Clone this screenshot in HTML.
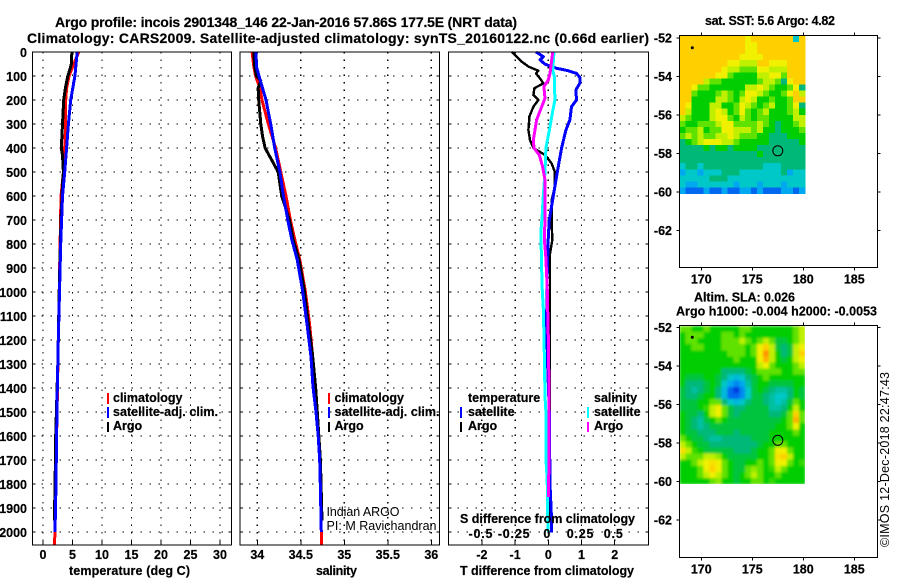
<!DOCTYPE html>
<html>
<head>
<meta charset="utf-8">
<title>Argo profile chart</title>
<style>
html,body{margin:0;padding:0;background:#fff;}
svg{display:block;}
text{font-family:"Liberation Sans",sans-serif;font-weight:bold;font-size:12.5px;fill:#000;stroke:#000;stroke-width:0.2px;}
text.reg{font-weight:normal;stroke:none;}
</style>
</head>
<body>
<svg id="chart" xmlns="http://www.w3.org/2000/svg" width="900" height="580" viewBox="0 0 900 580">
<defs>
<filter id="smooth" x="0" y="0" width="100%" height="100%"><feGaussianBlur stdDeviation="1.4" edgeMode="duplicate"/></filter>
<clipPath id="alt-clip"><rect x="679" y="326" width="126" height="158"/></clipPath>
</defs>
<rect x="0" y="0" width="900" height="580" fill="#fff"/>
<text x="55" y="27" textLength="462" style="font-size:14px">Argo profile: incois 2901348_146 22-Jan-2016 57.86S 177.5E (NRT data)</text>
<text x="27" y="43" textLength="622" style="font-size:14px">Climatology: CARS2009. Satellite-adjusted climatology: synTS_20160122.nc (0.66d earlier)</text>

<g id="layer-maps"></g>
<g id="layer-panels"></g>

<text x="69" y="575" textLength="121">temperature (deg C)</text>
<text x="316" y="575" textLength="41">salinity</text>
<text x="460" y="575" textLength="174">T difference from climatology</text>
<text x="460" y="523" textLength="175">S difference from climatology</text>

<g>
<rect x="107" y="393" width="2" height="11" fill="#f00"/>
<rect x="107" y="407" width="2" height="11" fill="#00f"/>
<rect x="107" y="422" width="2" height="10" fill="#000"/>
<text x="113" y="402">climatology</text>
<text x="113" y="416" textLength="105">satellite-adj. clim.</text>
<text x="113" y="430">Argo</text>
</g>
<g>
<rect x="328" y="393" width="2" height="11" fill="#f00"/>
<rect x="328" y="407" width="2" height="11" fill="#00f"/>
<rect x="328" y="422" width="2" height="10" fill="#000"/>
<text x="334.5" y="402">climatology</text>
<text x="334.5" y="416" textLength="105">satellite-adj. clim.</text>
<text x="334.5" y="430">Argo</text>
<text class="reg" x="326.5" y="516" textLength="73">Indian ARGO</text>
<text class="reg" x="326.5" y="530" textLength="110">PI: M Ravichandran</text>
</g>
<g>
<text x="468" y="402">temperature</text>
<rect x="460" y="407" width="2" height="11" fill="#00f"/>
<rect x="460" y="422" width="2" height="10" fill="#000"/>
<text x="468" y="416">satellite</text>
<text x="468" y="430">Argo</text>
<text x="594" y="402">salinity</text>
<rect x="587" y="407" width="2" height="11" fill="#0ff"/>
<rect x="587" y="422" width="2" height="10" fill="#f0f"/>
<text x="594" y="416">satellite</text>
<text x="594" y="430">Argo</text>
</g>

<text x="705" y="25" textLength="130">sat. SST: 5.6 Argo: 4.82</text>
<text x="694" y="301.5" textLength="101">Altim. SLA: 0.026</text>
<text x="676" y="315.5" textLength="201">Argo h1000: -0.004 h2000: -0.0053</text>
<text class="reg" transform="translate(889,547) rotate(-90)" textLength="175">©IMOS 12-Dec-2018 22:47:43</text>
</svg>

<script>
// ---- tick labels ----
const depthTicks = [0,100,200,300,400,500,600,700,800,900,1000,1100,1200,1300,1400,1500,1600,1700,1800,1900,2000];
const tempTicks = [0,5,10,15,20,25,30];
const salTicks = [34,34.5,35,35.5,36];
const salTickLabels = ['34','34.5','35','35.5','36'];
const tDiffTicks = [-2,-1,0,1,2];
const sDiffTicks = [-0.5,-0.25,0,0.25,0.5];
const sDiffTickLabels = ['-0.5','-0.25','0','0.25','0.5'];
const lonTicks = [170,175,180,185];
const latTicks = [-52,-54,-56,-58,-60,-62];

// ---- temperature profiles ----
const tempClimDepth = [0,100,150,200,300,400,500,600,800,1000,1200,1400,1600,1800,2000,2054];
const tempClimValue = [6.05,4.4,4.0,3.85,3.85,3.67,3.45,3.05,2.9,2.75,2.6,2.45,2.3,2.1,2.0,1.98];
const tempSatDepth = [0,100,200,300,400,500,600,800,1000,1200,1400,1600,1800,2000];
const tempSatValue = [5.8,5.4,4.7,4.3,4.0,3.67,3.3,3.0,2.8,2.6,2.43,2.3,2.2,2.03];
const tempArgoDepth = [0,50,70,100,150,200,300,400,430,500,550,700,1000,1300,1600,1800,1953];
const tempArgoValue = [4.9,4.8,4.6,4.2,3.8,3.5,3.3,3.1,3.3,3.45,3.3,3.05,2.75,2.5,2.15,2.05,1.92];

// ---- salinity profiles ----
const salClimDepth = [0,60,100,150,200,300,400,500,600,700,780,867,992,1130,1270,1396,1500,1700,2000,2054];
const salClimValue = [33.94,33.96,33.98,34.03,34.054,34.127,34.21,34.27,34.33,34.38,34.43,34.49,34.55,34.6,34.637,34.66,34.685,34.72,34.736,34.736];
const salSatDepth = [0,60,100,150,200,300,400,500,600,700,780,867,992,1130,1270,1396,1500,1600,1700,1800,2000];
const salSatValue = [33.985,33.99,34.02,34.06,34.1,34.154,34.2,34.26,34.3,34.35,34.395,34.46,34.52,34.57,34.617,34.64,34.675,34.7,34.717,34.724,34.736];
const salArgoDepth = [0,60,100,120,150,200,300,350,400,450,500,550,600,700,780,867,992,1130,1270,1396,1500,1700,1953];
const salArgoValue = [33.96,33.97,33.99,34.04,34.01,34.016,34.04,34.06,34.09,34.165,34.24,34.26,34.28,34.37,34.41,34.48,34.54,34.586,34.637,34.67,34.69,34.725,34.744];

// ---- difference profiles ----
const diffTArgoDepth = [0,19,40,61,78,89,110,131,151,179,200,228,269,325,367,400,429,464,500,561,617,700,783,840,979,1200,1500,1953];
const diffTArgoValue = [-1.1,-0.95,-0.8,-0.6,-0.3,-0.37,-0.25,-0.15,-0.42,-0.45,-0.3,-0.45,-0.57,-0.6,-0.55,-0.45,-0.1,0.1,0.2,0.2,0.1,0.1,0.12,0.05,0.05,0.05,0.04,0.04];
const diffTSatDepth = [0,19,33,51,68,78,89,106,131,158,200,228,283,325,400,500,600,700,770,910,1120,1300,1500,1800,1950,2003];
const diffTSatValue = [-0.37,-0.15,-0.25,-0.1,0.25,0.6,0.85,0.95,0.95,0.83,0.85,0.7,0.65,0.53,0.4,0.27,0.15,0.03,0,-0.03,-0.05,-0.02,0.03,0.05,0.1,0.1];
const diffSArgoDepth = [0,89,117,144,193,228,283,325,367,400,429,478,533,600,700,783,839,978,1186,1396,1854];
const diffSArgoValue = [0.033,0.013,0,-0.033,-0.025,-0.05,-0.088,-0.1,-0.113,-0.108,-0.068,-0.043,-0.025,-0.023,-0.025,-0.03,-0.02,-0.008,0,0.005,0.003];
const diffSSatDepth = [0,75,103,200,256,325,400,500,600,700,742,839,978,1075,1256,1436,1506,1700,1783,1922,2000];
const diffSSatValue = [0.043,0.033,0.045,0.05,0.03,0.008,-0.018,-0.025,-0.038,-0.048,-0.055,-0.053,-0.047,-0.037,-0.03,-0.025,-0.017,-0.017,-0.008,-0.005,0];

// ---- SST map levels (0 blue .. 8 gold) ----
const sstGrid = [
[8,8,8,8,8,8,8,8,8,8,8,7,8,8,8,8,8,8,8,2,8],
[8,8,8,8,8,8,8,8,8,8,8,7,7,8,8,8,8,8,8,8,8],
[8,8,8,8,8,8,8,8,8,8,8,7,7,8,8,8,8,8,8,8,8],
[8,8,8,8,8,8,8,8,8,8,7,7,7,7,8,8,8,8,8,8,8],
[8,8,8,8,8,8,8,8,7,7,6,6,6,8,8,7,7,7,8,8,8],
[8,8,8,8,8,8,8,7,6,6,5,5,5,7,7,6,6,6,8,8,8],
[8,8,8,8,8,8,7,7,5,4,4,4,4,6,6,7,7,5,8,8,8],
[8,8,8,8,6,5,5,4,4,4,4,4,4,5,6,6,5,3,7,8,8],
[8,8,7,5,5,4,4,4,4,4,4,6,6,7,6,5,4,4,5,7,3],
[8,8,5,4,4,4,5,6,5,4,5,7,7,6,5,4,4,5,7,8,6],
[8,8,4,4,4,4,6,6,5,4,6,7,6,4,4,5,4,4,5,8,8],
[8,7,4,4,4,6,6,4,4,5,7,6,5,4,5,6,4,4,5,7,3],
[8,6,4,4,4,6,7,6,4,5,7,5,4,5,6,4,4,4,5,6,4],
[6,5,4,4,4,6,7,7,5,4,6,5,4,5,5,4,4,4,4,6,6],
[5,4,4,5,5,5,6,7,7,5,5,5,5,6,5,4,3,4,4,5,6],
[4,5,5,6,4,5,5,7,7,6,6,6,5,6,4,4,3,4,4,4,5],
[5,6,5,6,5,5,6,6,7,6,5,5,5,4,4,3,3,3,4,4,4],
[3,4,5,6,7,7,7,6,6,5,4,4,4,4,4,3,3,3,3,3,4],
[3,3,3,3,4,3,4,4,3,4,4,4,4,3,3,3,3,3,3,3,3],
[3,3,3,3,3,3,3,3,3,3,3,3,3,4,3,3,3,3,3,3,3],
[3,3,3,3,3,3,3,3,3,3,3,3,3,3,3,3,3,3,3,3,3],
[2,3,3,2,3,3,3,3,3,3,3,3,3,3,2,2,2,3,3,3,3],
[1,2,2,1,2,2,2,3,3,3,2,2,2,2,2,2,2,3,1,2,2],
[2,2,2,2,2,3,3,3,2,2,2,2,2,2,2,2,2,2,2,2,2],
[2,1,1,2,2,2,2,2,2,1,2,2,2,1,2,2,2,1,2,2,2],
[1,0,0,0,1,0,0,1,0,0,1,1,0,1,0,0,0,1,1,0,1]
];

// ---- sea level anomaly map levels ----
const slaGrid = [
[5,5,4,4,5,4,4,4,4,4,5,5,4,4,4,4,4,4,4,5,6],
[4,5,5,5,4,4,4,5,5,4,5,4,4,4,4,4,4,4,4,5,6],
[4,5,5,4,4,4,4,5,5,5,6,5,4,5,6,5,3.5,3.5,4,5,6],
[4,4,5,5,4,4,4,5,5,5,5,4,5,7,8,6,3.5,3,3.5,6,7],
[4,4,4,4,4,4,4,4,5,5,5,4,5,7,9,6,4,3,3.5,6,8],
[4,4,4,4,4,4,4,4,4,5,4,4,4,7,8.5,6,4,3.5,4,6,7],
[4,4,4,4,4,4,4,4,4,4,4,4,4,6,7,5,4,4,4,5,6],
[4,4,4,4,4,4,4,3,3,3,3,3.5,4,5,5,5,5,4,4,5,5],
[4,3.5,3.5,3.5,4,4,3.5,3,2,1.5,2,3,3.5,4,5,4,4,4,4,4,4],
[4,3,3,3,3.5,4,3.5,2,1,0.5,1,2.5,3.5,4,4,3.5,3.5,3.5,3.5,4,4],
[3.5,3,2.5,3,3.5,4,3,1.5,0,-0.5,0.5,2,3.5,4,3.5,3,2.5,2.5,3,4,3.5],
[3.5,3,3,3.5,4,4,3,1.5,0,0,0.5,2,3.5,3.5,3,2.5,2,2,3,4,3.5],
[3.5,3.5,3.5,4,4,5,5,3,2,1.5,2,3,3.5,3.5,3,2.5,2,2.5,3.5,5,4],
[3.5,3.5,3.5,4,4.5,6,7,5,3.5,3,3,3.5,3.5,3.5,3.5,2.5,2.5,3,4,6,4],
[4,3.5,3.5,3,4,6,7,5,3.5,3,3.5,3.5,3.5,3.5,3.5,3,3,3.5,5,8,5],
[4,3.5,3,2.5,3.5,4,5,4,3.5,3.5,3.5,3.5,3.5,3.5,3.5,3.5,3.5,4,5,8.5,5],
[4,3.5,3,2.5,3,3.5,3.5,3.5,3.5,3.5,3.5,3.5,3.5,3.5,3.5,3.5,4,4,5,7,4],
[4,3.5,3.5,3,3,3,3.5,3.5,3.5,3,3.5,3.5,3.5,3.5,3.5,4,4,4,4,5,4],
[5,4,3.5,3.5,3,2.5,2.5,3,3,3,3,3,3.5,3.5,3.5,4,4,4,4,4,4],
[6,5,4,3.5,3.5,3,3,3,3,3,3,3,3,3.5,4,4,5,5,4,4,4],
[7.5,6,4.5,4,3.5,3.5,3.5,3.5,3.5,3,3,3,3.5,4,4,5,7,7,5,4,4],
[6,5,5,5,6,6,5.5,4,3.5,3.5,3.5,3.5,3.5,4,4,5,7.5,8,6,4,4],
[4,4,5,6,7,7.5,7,5,4,3.5,3.5,4,4,5,4,5,7,7,5,4,4.5],
[4,4,4,5,7,8,7,5,4,3.5,3.5,5,5.5,5,4,4.5,6,5,4,4,4],
[4,4,4,5,6,7,6,5,4,3.5,4,5,6,5,4,4,5,4,4,4,4],
[4,4,4,4,4,5,5.5,4,4,3.5,4,4,5,5,4,4.5,4,4,4,4,4]
];

// ---- profile position ----
const argoLon = [177.5];
const argoLat = [-57.86];

const NS = 'http://www.w3.org/2000/svg';
const panelsLayer = document.getElementById('layer-panels');
const mapsLayer = document.getElementById('layer-maps');

function mk(tag, attrs, parent, txt) {
  const el = document.createElementNS(NS, tag);
  for (const k in attrs) el.setAttribute(k, attrs[k]);
  if (txt !== undefined) el.textContent = txt;
  parent.appendChild(el);
  return el;
}
function named(el, name) {
  
  
  return el;
}

// ---- axis functions ----
const yDepth = d => 52 + 0.24 * d;
const xTemp = v => 43 + 5.9 * v;
const xSal = v => 257.3 + 87 * (v - 34);
const xTDiff = v => 548.3 + 33.2 * v;
const xSDiff = v => 548.3 + 132.8 * v;
const lonX = v => 701.3 + 10.2 * (v - 170);
const latY = (v, top) => top + (-52 - v) * 19.25;

function profile(parent, depths, values, xf, color, width, name) {
  const pts = depths.map((d, i) => xf(values[i]).toFixed(1) + ',' + yDepth(d).toFixed(1)).join(' ');
  const el = mk('polyline', {points: pts, fill: 'none', stroke: color, 'stroke-width': width, 'shape-rendering': 'crispEdges', 'stroke-linejoin': 'round'}, parent);
  named(el, name);
}

function panel(name, left, right, ticks, labels, xf, showDepthLabels) {
  const g = named(mk('g', {}, panelsLayer), name);
  const top = 52, bottom = 545;
  depthTicks.forEach(d => {
    const y = yDepth(d);
    if (d > 0) {
      named(mk('line', {x1: left, x2: right, y1: y, y2: y, stroke: '#000', 'stroke-width': 1.4, 'stroke-dasharray': '1.5 7.5', 'shape-rendering': 'crispEdges'}, g), 'depth-gridline');
      named(mk('line', {x1: left, x2: left + 3, y1: y, y2: y, stroke: '#000', 'stroke-width': 1, 'shape-rendering': 'crispEdges'}, g), 'depth-tick');
      named(mk('line', {x1: right - 3, x2: right, y1: y, y2: y, stroke: '#000', 'stroke-width': 1, 'shape-rendering': 'crispEdges'}, g), 'depth-tick');
    }
    if (showDepthLabels) {
      named(mk('text', {x: 27, y: y + 5, 'text-anchor': 'end'}, g, String(d)), 'depth-tick-label');
    }
  });
  ticks.forEach((t, i) => {
    const x = xf(t);
    named(mk('line', {x1: x, x2: x, y1: top, y2: bottom, stroke: '#000', 'stroke-width': 1.4, 'stroke-dasharray': '1.5 6', 'shape-rendering': 'crispEdges'}, g), 'x-gridline');
    named(mk('line', {x1: x, x2: x, y1: bottom - 4, y2: bottom, stroke: '#000', 'stroke-width': 1, 'shape-rendering': 'crispEdges'}, g), 'x-tick');
    named(mk('text', {x: x, y: 559, 'text-anchor': 'middle'}, g, labels[i]), 'x-tick-label');
  });
  return g;
}
function frame(g, left, right) {
  named(mk('rect', {x: left, y: 52, width: right - left, height: 493, fill: 'none', stroke: '#000', 'stroke-width': 1, 'shape-rendering': 'crispEdges'}, g), 'plot-frame');
}

// temperature panel
const pT = panel('temperature-panel', 32.5, 231.3, tempTicks, tempTicks.map(String), xTemp, true);
profile(pT, tempClimDepth, tempClimValue, xTemp, '#f00', 3, 'temperature-climatology-line');
profile(pT, tempArgoDepth, tempArgoValue, xTemp, '#000', 3, 'temperature-argo-line');
profile(pT, tempSatDepth, tempSatValue, xTemp, '#00f', 3, 'temperature-satellite-line');
frame(pT, 32.5, 231.3);

// salinity panel
const pS = panel('salinity-panel', 240, 439.3, salTicks, salTickLabels, xSal, false);
profile(pS, salClimDepth, salClimValue, xSal, '#f00', 3, 'salinity-climatology-line');
profile(pS, salArgoDepth, salArgoValue, xSal, '#000', 3, 'salinity-argo-line');
profile(pS, salSatDepth, salSatValue, xSal, '#00f', 3, 'salinity-satellite-line');
frame(pS, 240, 439.3);

// difference panel
const pD = panel('difference-panel', 448.5, 648.5, tDiffTicks, tDiffTicks.map(String), xTDiff, false);
profile(pD, diffTArgoDepth, diffTArgoValue, xTDiff, '#000', 2.4, 'diff-temperature-argo-line');
profile(pD, diffTSatDepth, diffTSatValue, xTDiff, '#00f', 3, 'diff-temperature-satellite-line');
profile(pD, diffSSatDepth, diffSSatValue, xSDiff, '#0ff', 3, 'diff-salinity-satellite-line');
profile(pD, diffSArgoDepth, diffSArgoValue, xSDiff, '#f0f', 3, 'diff-salinity-argo-line');
frame(pD, 448.5, 648.5);
sDiffTicks.forEach((t, i) => {
  const lab = mk('text', {x: xSDiff(t) - 1, y: 538, 'text-anchor': 'middle', 'letter-spacing': '0.8'}, pD, sDiffTickLabels[i]);
  named(lab, 's-diff-tick-label');
});

// ---- maps ----
const stops = [[-0.5,[0,56,224]],[0,[0,104,240]],[1,[0,168,240]],[2,[0,200,200]],[3,[0,184,120]],[3.5,[0,196,60]],[4,[0,206,0]],[5,[96,226,0]],[6,[192,240,0]],[7,[240,240,0]],[8,[255,208,0]],[9,[255,144,0]]];
function levelColor(v) {
  for (let i = 1; i < stops.length; i++) {
    if (v <= stops[i][0]) {
      const a = stops[i-1], b = stops[i];
      const f = (v - a[0]) / (b[0] - a[0]);
      const c = a[1].map((q, j) => Math.round(q + (b[1][j] - q) * f));
      return 'rgb(' + c.join(',') + ')';
    }
  }
  return 'rgb(255,144,0)';
}

function heatmap(parent, grid, top, name) {
  const g = named(mk('g', {'shape-rendering': 'crispEdges'}, parent), name);
  const left = 679.5, w = 125.5, h = (top === 36 ? 157.5 : 158);
  const rows = grid.length, cols = grid[0].length;
  grid.forEach((row, r) => row.forEach((v, c) => {
    const cell = mk('rect', {x: (left + c * w / cols).toFixed(2), y: (top + r * h / rows).toFixed(2), width: (w / cols + 0.4).toFixed(2), height: (h / rows + 0.4).toFixed(2), fill: levelColor(v)}, g);
    
    
  }));
  return g;
}

function mapAxes(parent, top, bottom, labelY, name, marker) {
  const g = named(mk('g', {}, parent), name);
  const left = 679.5, right = 877.3;
  named(mk('rect', {x: left, y: top, width: right - left, height: bottom - top, fill: 'none', stroke: '#000', 'stroke-width': 1, 'shape-rendering': 'crispEdges'}, g), 'map-frame');
  lonTicks.forEach(t => {
    const x = lonX(t);
    named(mk('line', {x1: x, x2: x, y1: top - 3, y2: top, stroke: '#000', 'shape-rendering': 'crispEdges'}, g), 'lon-tick-top');
    named(mk('line', {x1: x, x2: x, y1: bottom, y2: bottom + 3, stroke: '#000', 'shape-rendering': 'crispEdges'}, g), 'lon-tick-bottom');
    named(mk('text', {x: x, y: labelY, 'text-anchor': 'middle'}, g, String(t)), 'lon-tick-label');
  });
  latTicks.forEach(t => {
    const y = latY(t, marker);
    named(mk('line', {x1: left - 3, x2: left, y1: y, y2: y, stroke: '#000', 'shape-rendering': 'crispEdges'}, g), 'lat-tick-left');
    named(mk('line', {x1: right, x2: right + 3, y1: y, y2: y, stroke: '#000', 'shape-rendering': 'crispEdges'}, g), 'lat-tick-right');
    named(mk('text', {x: 672, y: y + 4.5, 'text-anchor': 'end'}, g, String(t)), 'lat-tick-label');
  });
  named(mk('circle', {cx: lonX(argoLon[0]), cy: latY(argoLat[0], marker), r: 5, fill: 'none', stroke: '#000', 'stroke-width': 1}, g), 'argo-position-marker');
  named(mk('circle', {cx: 692.3, cy: marker + 9.7, r: 1.5, fill: '#000'}, g), 'map-spot');
}

const sstMap = heatmap(mapsLayer, sstGrid, 36, 'sst-heatmap');
const slaHolder = named(mk('g', {'clip-path': 'url(#alt-clip)'}, mapsLayer), 'sla-map-clip');
const slaMap = heatmap(slaHolder, slaGrid, 326, 'sla-heatmap');
slaMap.setAttribute('filter', 'url(#smooth)');
mapAxes(mapsLayer, 35.7, 267.3, 283.5, 'sst-map-axes', 38);
mapAxes(mapsLayer, 325.3, 557.3, 573.5, 'sla-map-axes', 327.5);
</script>
</body>
</html>
